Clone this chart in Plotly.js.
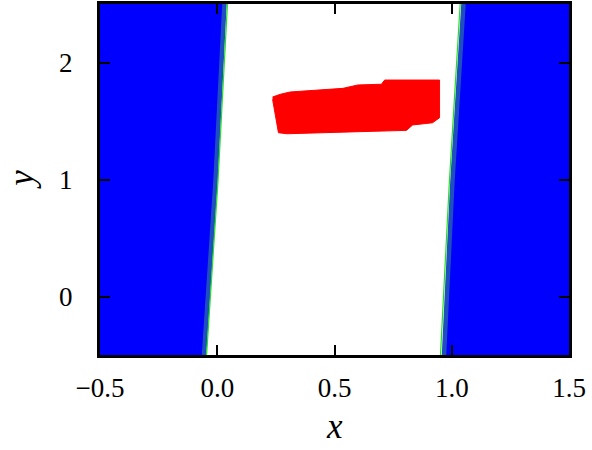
<!DOCTYPE html>
<html>
<head>
<meta charset="utf-8">
<script src="https://cdn.plot.ly/plotly-3.0.1.min.js"></script>
<style>html,body{margin:0;padding:0;background:#fff;}#chart{width:592px;height:450px;}</style>
</head>
<body>
<div id="chart"></div>
<script>
// Decision boundary (band centre and green edge) sampled at these y values
var bandY = [-0.5, 0.987, 2.5];
var leftBandX = [-0.0563, -0.0074, 0.0308];
var leftGreenX = [-0.0456, 0.0032, 0.0435];
var rightBandX = [0.967, 1.003, 1.050];
var rightGreenX = [0.952, 0.990, 1.036];

// Outline of the red point cloud
var redX = [0.236, 0.269, 0.311, 0.361, 0.451, 0.536, 0.600, 0.700, 0.714, 0.948, 0.948, 0.918, 0.833, 0.807, 0.608, 0.297, 0.261, 0.247, 0.236];
var redY = [1.705, 1.728, 1.748, 1.756, 1.765, 1.779, 1.808, 1.814, 1.850, 1.850, 1.528, 1.485, 1.466, 1.420, 1.409, 1.391, 1.400, 1.571, 1.685];

var xRange = [-0.5, 1.5];
var yRange = [-0.5, 2.5];

// left blue region polygon
var lx = [xRange[0]].concat(leftBandX).concat([xRange[0]]);
var ly = [yRange[0]].concat(bandY).concat([yRange[1]]);
// right blue region polygon
var rx = [xRange[1]].concat(rightBandX).concat([xRange[1]]);
var ry = [yRange[0]].concat(bandY).concat([yRange[1]]);

var blue = '#0000ff';
var band = '#1f4fbf';
var green = '#22e022';

var traces = [
  {x: lx, y: ly, mode: 'lines', fill: 'toself', fillcolor: blue, line: {width: 0}, hoverinfo: 'skip'},
  {x: rx, y: ry, mode: 'lines', fill: 'toself', fillcolor: blue, line: {width: 0}, hoverinfo: 'skip'},
  {x: leftBandX, y: bandY, mode: 'lines', line: {color: band, width: 4.5}},
  {x: rightBandX, y: bandY, mode: 'lines', line: {color: band, width: 4.5}},
  {x: leftGreenX, y: bandY, mode: 'lines', line: {color: green, width: 1.2}},
  {x: rightGreenX, y: bandY, mode: 'lines', line: {color: green, width: 1.2}},
  {x: redX, y: redY, mode: 'lines', fill: 'toself', fillcolor: '#ff0000', line: {color: '#ff0000', width: 1}}
];

var tickFont = {family: 'Liberation Serif, serif', size: 27, color: '#000'};
var titleFont = {family: 'Liberation Serif, serif', size: 35, color: '#000'};
var layout = {
  width: 592, height: 450,
  margin: {l: 100, r: 23, t: 4, b: 95},
  paper_bgcolor: '#fff', plot_bgcolor: '#fff',
  showlegend: false,
  xaxis: {
    range: xRange, dtick: 0.5, tick0: -0.5, tickformat: '.1f',
    showgrid: false, zeroline: false,
    showline: true, linecolor: '#000', linewidth: 3, mirror: 'allticks',
    ticks: 'inside', ticklen: 10, tickwidth: 2, tickcolor: '#000',
    tickfont: tickFont, ticklabelstandoff: 7
  },
  yaxis: {
    range: yRange, dtick: 1, tick0: 0,
    showgrid: false, zeroline: false,
    showline: true, linecolor: '#000', linewidth: 3, mirror: 'allticks',
    ticks: 'inside', ticklen: 10, tickwidth: 2, tickcolor: '#000',
    tickfont: tickFont, ticklabelstandoff: 19
  },
  annotations: [
    {text: '<i>x</i>', xref: 'paper', yref: 'paper', x: 0.5, y: -0.204, xanchor: 'center', yanchor: 'middle', showarrow: false, font: titleFont},
    {text: '<i>y</i>', xref: 'paper', yref: 'paper', x: -0.168, y: 0.5, xanchor: 'center', yanchor: 'middle', textangle: -90, showarrow: false, font: titleFont}
  ]
};

Plotly.newPlot('chart', traces, layout, {staticPlot: true, displayModeBar: false});
</script>
</body>
</html>
